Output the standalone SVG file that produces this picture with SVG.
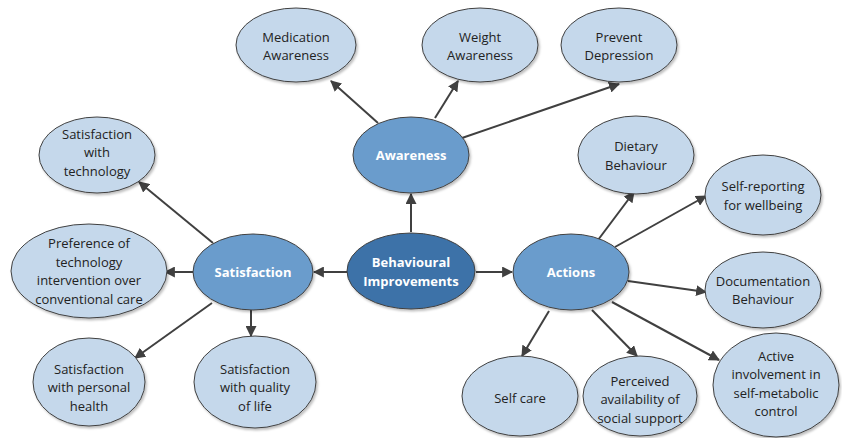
<svg xmlns="http://www.w3.org/2000/svg" width="842" height="438" viewBox="0 0 842 438">
<defs>
<marker id="ah" viewBox="0 0 10 10" refX="9" refY="5" markerWidth="11" markerHeight="11" markerUnits="userSpaceOnUse" orient="auto"><path d="M0,0 L10,5 L0,10 z" fill="#404040"/></marker>
<filter id="sh" x="-10%" y="-10%" width="125%" height="130%"><feDropShadow dx="1.5" dy="2" stdDeviation="1.2" flood-color="#000" flood-opacity="0.25"/></filter>
</defs>
<style>
.leaf{fill:#c5d8eb;stroke:#404040;stroke-width:1;filter:url(#sh)}
.mid{fill:#6b9ccc;stroke:#404040;stroke-width:1;filter:url(#sh)}
.core{fill:#3e72a8;stroke:#404040;stroke-width:1;filter:url(#sh)}
text{font-family:"Open Sans","Liberation Sans",sans-serif;font-size:13px;fill:#222;text-anchor:middle}
.w{fill:#fff;font-weight:bold}
.c line{stroke:#404040;stroke-width:2;marker-end:url(#ah)}
</style>
<rect width="842" height="438" fill="#fff"/>
<g class="c">
<line x1="378" y1="123" x2="331" y2="81"/>
<line x1="435" y1="118" x2="458" y2="81"/>
<line x1="462" y1="138" x2="619" y2="84"/>
<line x1="411" y1="232" x2="411" y2="194"/>
<line x1="347" y1="272" x2="314" y2="272"/>
<line x1="476" y1="272" x2="512" y2="272"/>
<line x1="213" y1="243" x2="139" y2="182"/>
<line x1="193" y1="272" x2="165" y2="272"/>
<line x1="212" y1="303" x2="135" y2="358"/>
<line x1="251" y1="310" x2="251" y2="336"/>
<line x1="598" y1="240" x2="634" y2="192"/>
<line x1="615" y1="247" x2="706" y2="196"/>
<line x1="628" y1="281" x2="706" y2="292"/>
<line x1="549" y1="311" x2="522" y2="356"/>
<line x1="592" y1="310" x2="637" y2="356"/>
<line x1="612" y1="302" x2="719" y2="360"/>
</g>
<g id="behavioural-improvements"><ellipse class="core" cx="411" cy="271" rx="64" ry="38"/><text class="w" x="411" y="267">Behavioural</text><text class="w" x="411" y="286">Improvements</text></g>
<g id="awareness"><ellipse class="mid" cx="411" cy="155" rx="58" ry="38"/><text class="w" x="411" y="160">Awareness</text></g>
<g id="satisfaction"><ellipse class="mid" cx="253" cy="272" rx="60" ry="38"/><text class="w" x="253" y="277">Satisfaction</text></g>
<g id="actions"><ellipse class="mid" cx="571" cy="272" rx="58" ry="38"/><text class="w" x="571" y="277">Actions</text></g>
<g id="medication-awareness"><ellipse class="leaf" cx="296" cy="45" rx="60" ry="37"/><text x="296" y="42">Medication</text><text x="296" y="60">Awareness</text></g>
<g id="weight-awareness"><ellipse class="leaf" cx="480" cy="45" rx="58" ry="37"/><text x="480" y="42">Weight</text><text x="480" y="60">Awareness</text></g>
<g id="prevent-depression"><ellipse class="leaf" cx="619" cy="45" rx="58" ry="37"/><text x="619" y="42">Prevent</text><text x="619" y="60">Depression</text></g>
<g id="satisfaction-technology"><ellipse class="leaf" cx="97" cy="155" rx="58" ry="38"/><text x="97" y="139">Satisfaction</text><text x="97" y="157">with</text><text x="97" y="176">technology</text></g>
<g id="preference"><ellipse class="leaf" cx="89" cy="271" rx="78" ry="47"/><text x="89" y="248">Preference of</text><text x="89" y="267">technology</text><text x="89" y="285">intervention over</text><text x="89" y="304">conventional care</text></g>
<g id="satisfaction-personal-health"><ellipse class="leaf" cx="89" cy="382" rx="56" ry="44"/><text x="89" y="374">Satisfaction</text><text x="89" y="392">with personal</text><text x="89" y="411">health</text></g>
<g id="satisfaction-quality"><ellipse class="leaf" cx="255" cy="382" rx="61" ry="46"/><text x="255" y="374">Satisfaction</text><text x="255" y="392">with quality</text><text x="255" y="411">of life</text></g>
<g id="dietary-behaviour"><ellipse class="leaf" cx="636" cy="155" rx="58" ry="39"/><text x="636" y="151">Dietary</text><text x="636" y="170">Behaviour</text></g>
<g id="self-reporting"><ellipse class="leaf" cx="763" cy="195" rx="58" ry="40"/><text x="763" y="191">Self-reporting</text><text x="763" y="210">for wellbeing</text></g>
<g id="documentation-behaviour"><ellipse class="leaf" cx="763" cy="290" rx="58" ry="38"/><text x="763" y="286">Documentation</text><text x="763" y="304">Behaviour</text></g>
<g id="self-care"><ellipse class="leaf" cx="520" cy="396" rx="58" ry="40"/><text x="520" y="403">Self care</text></g>
<g id="perceived-availability"><ellipse class="leaf" cx="640" cy="396" rx="57" ry="40"/><text x="640" y="386">Perceived</text><text x="640" y="404">availability of</text><text x="640" y="423">social support</text></g>
<g id="active-involvement"><ellipse class="leaf" cx="776" cy="385" rx="63" ry="52"/><text x="776" y="361">Active</text><text x="776" y="379">involvement in</text><text x="776" y="398">self-metabolic</text><text x="776" y="416">control</text></g>
</svg>
